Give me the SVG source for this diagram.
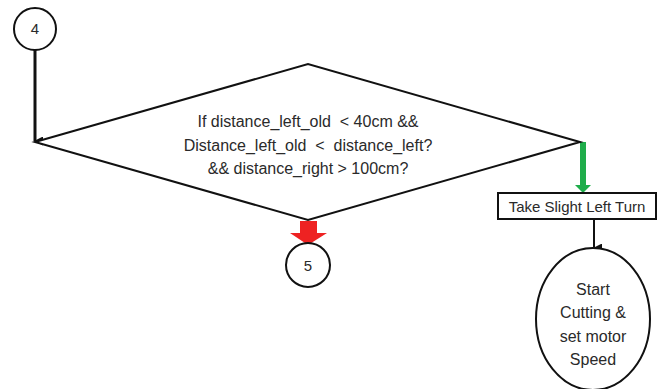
<svg xmlns="http://www.w3.org/2000/svg" width="661" height="389" viewBox="0 0 661 389">
  <defs>
    <style>
      .shape { fill: #ffffff; stroke: #111111; stroke-width: 2; }
      .label { font-family: "Liberation Sans", Arial, sans-serif; fill: #2a2a2a; text-anchor: middle; white-space: pre; }
      .wire { stroke: #111111; fill: none; }
    </style>
    <marker id="blackHead" markerWidth="9" markerHeight="9" refX="4.5" refY="8" orient="auto" markerUnits="userSpaceOnUse" viewBox="0 0 9 9">
      <path d="M0,0 L9,0 L4.5,9 Z" fill="#111111"/>
    </marker>
  </defs>
  <rect width="661" height="389" fill="#ffffff"/>

  <g id="connectors">
    <!-- 4 down to the decision's left corner -->
    <line class="wire" x1="35" y1="50" x2="35" y2="141" stroke-width="3" marker-end="url(#blackHead)"/>
    <!-- yes branch: green arrow from right corner to the turn box -->
    <path d="M580,142 L586,142 L586,185 L591,185 L583,193 L575,185 L580,185 Z" fill="#1fad4b"/>
    <!-- no branch: red arrow from bottom corner to 5 -->
    <path d="M300,221 L317,221 L317,233 L327,233 L308,245 L290,233 L300,233 Z" fill="#ee2222"/>
    <!-- turn box down to the cutting ellipse -->
    <line class="wire" x1="594" y1="219" x2="594" y2="248" stroke-width="2" marker-end="url(#blackHead)"/>
  </g>

  <g id="node-4">
    <circle class="shape" cx="35" cy="29" r="21"/>
    <text class="label" x="35" y="34" font-size="15">4</text>
  </g>

  <g id="node-decision">
    <polygon class="shape" points="35,142 308,64 580,142 308,220"/>
    <text class="label" font-size="16" xml:space="preserve"><tspan x="308" y="127">If distance_left_old  &lt; 40cm &amp;&amp;</tspan><tspan x="308" y="151">Distance_left_old  &lt;  distance_left?</tspan><tspan x="308" y="174">&amp;&amp; distance_right &gt; 100cm?</tspan></text>
  </g>

  <g id="node-5">
    <circle class="shape" cx="308" cy="265" r="22"/>
    <text class="label" x="308" y="271" font-size="15">5</text>
  </g>

  <g id="node-turn">
    <rect class="shape" x="498" y="193" width="158" height="26"/>
    <text class="label" x="577" y="212" font-size="15">Take Slight Left Turn</text>
  </g>

  <g id="node-cutting">
    <ellipse class="shape" cx="593" cy="319" rx="57" ry="71"/>
    <text class="label" font-size="16"><tspan x="593" y="295">Start</tspan><tspan x="593" y="318">Cutting &amp;</tspan><tspan x="593" y="342">set motor</tspan><tspan x="593" y="365">Speed</tspan></text>
  </g>
</svg>
